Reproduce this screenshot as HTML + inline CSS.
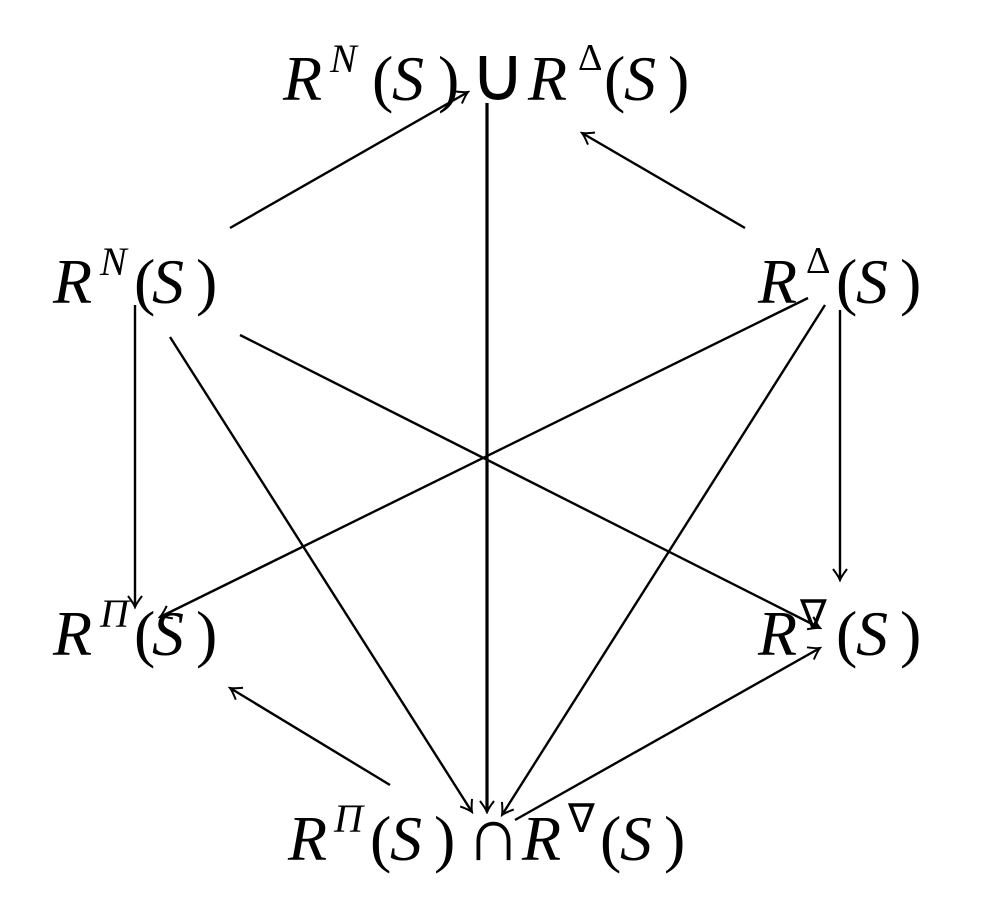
<!DOCTYPE html>
<html><head><style>body{margin:0;background:#fff}</style></head><body>
<svg width="999" height="914" xmlns="http://www.w3.org/2000/svg" font-family="Liberation Serif, serif">
<defs><marker id="a" viewBox="-12 -8 14 16" markerWidth="14" markerHeight="16" refX="0" refY="0" orient="auto" markerUnits="userSpaceOnUse"><path d="M-11,-7 Q-3,-1 0,0 Q-3,1 -11,7" fill="none" stroke="#000" stroke-width="2"/></marker></defs>
<g stroke="#000" stroke-width="2.4" fill="none" marker-end="url(#a)">
<line x1="230" y1="228" x2="468" y2="92"/>
<line x1="745" y1="228" x2="582" y2="133"/>
<line x1="487" y1="103" x2="487" y2="812" stroke-width="3.2"/>
<line x1="135" y1="305" x2="135" y2="607"/>
<line x1="840" y1="310" x2="840" y2="580"/>
<line x1="170" y1="337" x2="472" y2="812"/>
<line x1="240" y1="335" x2="820" y2="628"/>
<line x1="808" y1="298" x2="160" y2="617"/>
<line x1="825" y1="305" x2="502" y2="815"/>
<line x1="390" y1="785" x2="230" y2="688"/>
<line x1="515" y1="820" x2="820" y2="648"/>
</g>
<g font-size="64" fill="#000">
<!-- top -->
<text x="283" y="100" font-style="italic">R</text><text x="330" y="72" font-size="40" font-style="italic">N</text>
<text x="372" y="100">(</text><text x="392" y="100" font-style="italic">S</text><text x="438" y="100">)</text>
<text x="470" y="100" font-size="76">∪</text>
<text x="528" y="100" font-style="italic">R</text><text x="578" y="70" font-size="38">Δ</text>
<text x="604" y="100">(</text><text x="624" y="100" font-style="italic">S</text><text x="668" y="100">)</text>
<!-- left mid -->
<text x="53" y="303" font-style="italic">R</text><text x="100" y="275" font-size="40" font-style="italic">N</text>
<text x="134" y="303">(</text><text x="152" y="303" font-style="italic">S</text><text x="196" y="303">)</text>
<!-- right mid -->
<text x="758" y="303" font-style="italic">R</text><text x="806" y="273" font-size="38">Δ</text>
<text x="836" y="303">(</text><text x="856" y="303" font-style="italic">S</text><text x="900" y="303">)</text>
<!-- left bottom -->
<text x="53" y="655" font-style="italic">R</text><text x="100" y="627" font-size="40" font-style="italic">Π</text>
<text x="134" y="655">(</text><text x="152" y="655" font-style="italic">S</text><text x="196" y="655">)</text>
<!-- right bottom -->
<text x="758" y="655" font-style="italic">R</text><text x="800" y="628" font-size="40">∇</text>
<text x="836" y="655">(</text><text x="856" y="655" font-style="italic">S</text><text x="900" y="655">)</text>
<!-- bottom -->
<text x="288" y="860" font-style="italic">R</text><text x="334" y="832" font-size="40" font-style="italic">Π</text>
<text x="370" y="860">(</text><text x="390" y="860" font-style="italic">S</text><text x="434" y="860">)</text>
<text x="466" y="860" font-size="76">∩</text>
<text x="522" y="860" font-style="italic">R</text><text x="568" y="832" font-size="40">∇</text>
<text x="600" y="860">(</text><text x="620" y="860" font-style="italic">S</text><text x="664" y="860">)</text>
</g>
</svg>
</body></html>
